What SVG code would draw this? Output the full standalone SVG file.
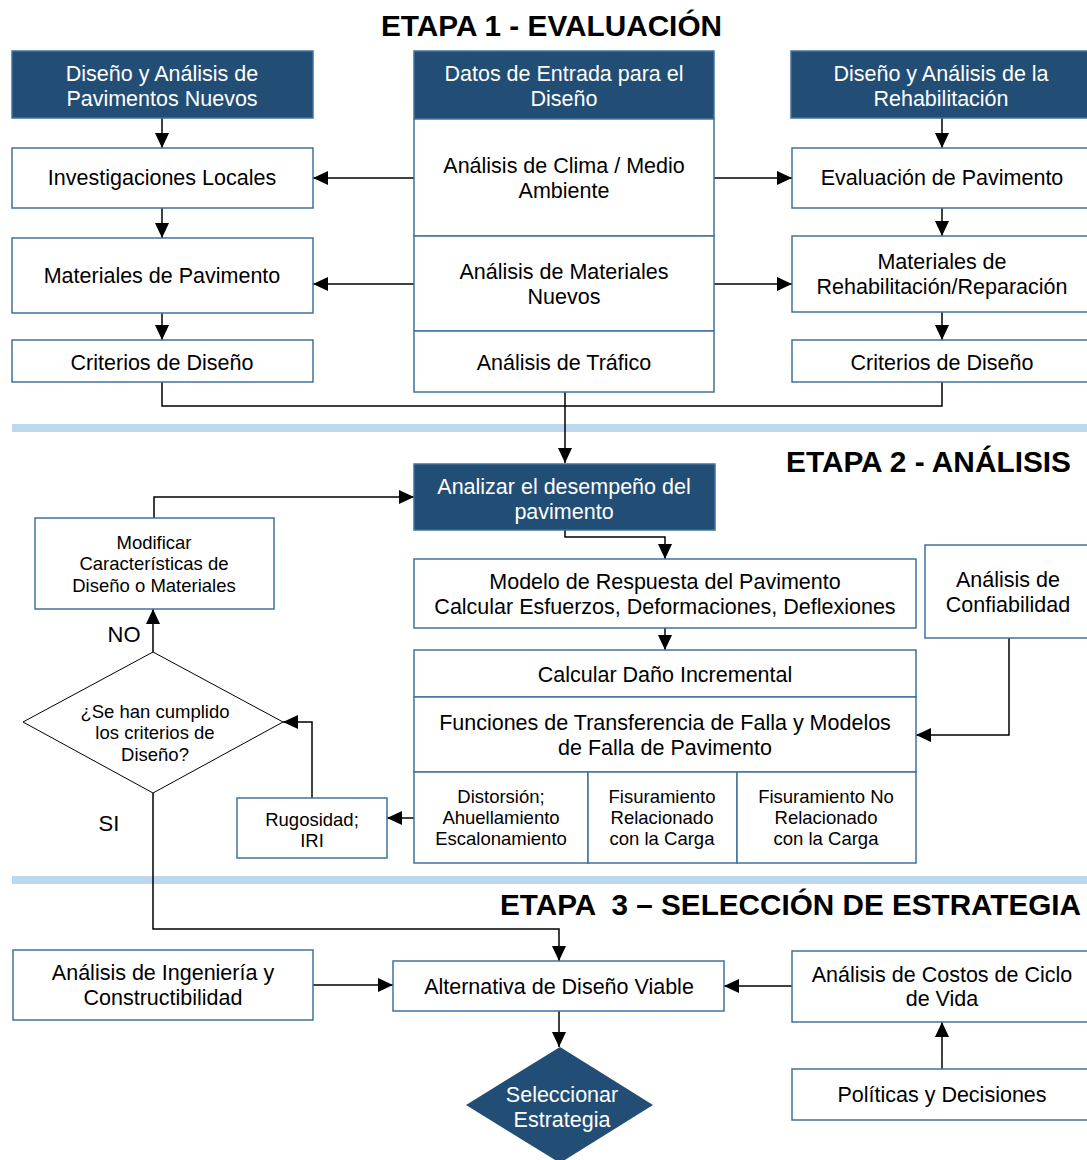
<svg xmlns="http://www.w3.org/2000/svg" width="1087" height="1160" viewBox="0 0 1087 1160">
<style>
.box{fill:#fff;stroke:#41719C;stroke-width:1.5}
.dark{fill:#224E76;stroke:#41719C;stroke-width:1.5}
.t{font-family:"Liberation Sans",Arial,sans-serif;font-size:21.5px;text-anchor:middle;fill:#000}
.s{font-size:18.5px}
.w{fill:#fff}
.h{font-family:"Liberation Sans",Arial,sans-serif;font-size:29.5px;font-weight:bold;fill:#000}
.c{fill:none;stroke:#000;stroke-width:1.5}
.band{fill:#BDD7EE}
</style>
<defs>
<marker id="a" markerUnits="userSpaceOnUse" markerWidth="15" markerHeight="14" refX="15" refY="7" orient="auto">
<path d="M0,0 L15,7 L0,14 z" fill="#000"/>
</marker>
</defs>
<rect class="band" x="12" y="424" width="1075" height="8"/>
<rect class="band" x="12" y="876" width="1075" height="8"/>
<text class="h" x="381" y="36" textLength="341" lengthAdjust="spacingAndGlyphs">ETAPA 1 - EVALUACIÓN</text>
<text class="h" x="786" y="472" textLength="285" lengthAdjust="spacingAndGlyphs">ETAPA 2 - ANÁLISIS</text>
<text class="h" x="500" y="915" textLength="581" lengthAdjust="spacingAndGlyphs" xml:space="preserve">ETAPA  3 – SELECCIÓN DE ESTRATEGIA</text>

<g id="connectors">
<path class="c" d="M162,118 V148" marker-end="url(#a)"/>
<path class="c" d="M162,208 V238" marker-end="url(#a)"/>
<path class="c" d="M162,313 V340" marker-end="url(#a)"/>
<path class="c" d="M942,118 V148" marker-end="url(#a)"/>
<path class="c" d="M942,208 V236" marker-end="url(#a)"/>
<path class="c" d="M942,312 V340" marker-end="url(#a)"/>
<path class="c" d="M414,178 H313" marker-end="url(#a)"/>
<path class="c" d="M414,284 H313" marker-end="url(#a)"/>
<path class="c" d="M714,178 H792" marker-end="url(#a)"/>
<path class="c" d="M714,284 H792" marker-end="url(#a)"/>
<path class="c" d="M162,382 V406 H942 V382"/>
<path class="c" d="M565,392 V463" marker-end="url(#a)"/>
<path class="c" d="M154,518 V497 H414" marker-end="url(#a)"/>
<path class="c" d="M565,530 V537 H665 V559" marker-end="url(#a)"/>
<path class="c" d="M665,628 V650" marker-end="url(#a)"/>
<path class="c" d="M1009,638 V735 H916" marker-end="url(#a)"/>
<path class="c" d="M414,818 H387" marker-end="url(#a)"/>
<path class="c" d="M312,798 V722 H283" marker-end="url(#a)"/>
<path class="c" d="M153,652 V609" marker-end="url(#a)"/>
<path class="c" d="M153,793 V929 H559 V961" marker-end="url(#a)"/>
<path class="c" d="M313,985 H393" marker-end="url(#a)"/>
<path class="c" d="M792,986 H724" marker-end="url(#a)"/>
<path class="c" d="M559,1011 V1047" marker-end="url(#a)"/>
<path class="c" d="M942,1069 V1022" marker-end="url(#a)"/>
</g>

<g id="n-nuevos"><rect class="dark" x="12" y="51" width="301" height="67"/>
<text class="t w" x="162" y="81">Diseño y Análisis de</text><text class="t w" x="162" y="106">Pavimentos Nuevos</text></g>
<g id="n-datos"><rect class="dark" x="414" y="51" width="300" height="68"/>
<text class="t w" x="564" y="81">Datos de Entrada para el</text><text class="t w" x="564" y="106">Diseño</text></g>
<g id="n-rehab"><rect class="dark" x="791" y="51" width="300" height="67"/>
<text class="t w" x="941" y="81">Diseño y Análisis de la</text><text class="t w" x="941" y="106">Rehabilitación</text></g>

<g id="n-invest"><rect class="box" x="12" y="148" width="301" height="60"/>
<text class="t" x="162" y="185">Investigaciones Locales</text></g>
<g id="n-matpav"><rect class="box" x="12" y="238" width="301" height="75"/>
<text class="t" x="162" y="283">Materiales de Pavimento</text></g>
<g id="n-crit1"><rect class="box" x="12" y="340" width="301" height="42"/>
<text class="t" x="162" y="370">Criterios de Diseño</text></g>

<g id="n-clima"><rect class="box" x="414" y="119" width="300" height="117"/>
<text class="t" x="564" y="173">Análisis de Clima / Medio</text><text class="t" x="564" y="198">Ambiente</text></g>
<g id="n-matnuevos"><rect class="box" x="414" y="236" width="300" height="95"/>
<text class="t" x="564" y="279">Análisis de Materiales</text><text class="t" x="564" y="304">Nuevos</text></g>
<g id="n-trafico"><rect class="box" x="414" y="331" width="300" height="61"/>
<text class="t" x="564" y="370">Análisis de Tráfico</text></g>

<g id="n-evalpav"><rect class="box" x="792" y="148" width="300" height="60"/>
<text class="t" x="942" y="185">Evaluación de Pavimento</text></g>
<g id="n-matrehab"><rect class="box" x="792" y="236" width="300" height="76"/>
<text class="t" x="942" y="269">Materiales de</text><text class="t" x="942" y="294">Rehabilitación/Reparación</text></g>
<g id="n-crit2"><rect class="box" x="792" y="340" width="300" height="42"/>
<text class="t" x="942" y="370">Criterios de Diseño</text></g>

<g id="n-analizar"><rect class="dark" x="414" y="464" width="301" height="66"/>
<text class="t w" x="564" y="494">Analizar el desempeño del</text><text class="t w" x="564" y="519">pavimento</text></g>
<g id="n-modelo"><rect class="box" x="414" y="559" width="502" height="69"/>
<text class="t" x="665" y="589">Modelo de Respuesta del Pavimento</text><text class="t" x="665" y="614">Calcular Esfuerzos, Deformaciones, Deflexiones</text></g>
<g id="n-confiab"><rect class="box" x="925" y="545" width="166" height="93"/>
<text class="t" x="1008" y="587">Análisis de</text><text class="t" x="1008" y="612">Confiabilidad</text></g>
<g id="n-dano"><rect class="box" x="414" y="650" width="502" height="47"/>
<text class="t" x="665" y="682">Calcular Daño Incremental</text></g>
<g id="n-funciones"><rect class="box" x="414" y="697" width="502" height="75"/>
<text class="t" x="665" y="730">Funciones de Transferencia de Falla y Modelos</text><text class="t" x="665" y="755">de Falla de Pavimento</text></g>
<g id="n-distorsion"><rect class="box" x="414" y="772" width="174" height="91"/>
<text class="t s" x="501" y="803">Distorsión;</text><text class="t s" x="501" y="824">Ahuellamiento</text><text class="t s" x="501" y="845">Escalonamiento</text></g>
<g id="n-fiscarga"><rect class="box" x="588" y="772" width="149" height="91"/>
<text class="t s" x="662" y="803">Fisuramiento</text><text class="t s" x="662" y="824">Relacionado</text><text class="t s" x="662" y="845">con la Carga</text></g>
<g id="n-fisnocarga"><rect class="box" x="737" y="772" width="179" height="91"/>
<text class="t s" x="826" y="803">Fisuramiento No</text><text class="t s" x="826" y="824">Relacionado</text><text class="t s" x="826" y="845">con la Carga</text></g>
<g id="n-rugosidad"><rect class="box" x="237" y="798" width="150" height="60"/>
<text class="t s" x="312" y="826">Rugosidad;</text><text class="t s" x="312" y="847">IRI</text></g>
<g id="n-modificar"><rect class="box" x="35" y="518" width="239" height="91"/>
<text class="t s" x="154" y="549">Modificar</text><text class="t s" x="154" y="570">Características de</text><text class="t s" x="154" y="592">Diseño o Materiales</text></g>
<g id="n-criterios"><polygon points="153,652 283,722 153,793 23,722" fill="#fff" stroke="#000" stroke-width="1"/>
<text class="t s" x="155" y="718">¿Se han cumplido</text><text class="t s" x="155" y="739">los criterios de</text><text class="t s" x="155" y="761">Diseño?</text></g>
<text class="t" style="font-size:22px" x="124" y="642">NO</text>
<text class="t" style="font-size:22px" x="109" y="831">SI</text>

<g id="n-ingenieria"><rect class="box" x="13" y="950" width="300" height="70"/>
<text class="t" x="163" y="980">Análisis de Ingeniería y</text><text class="t" x="163" y="1005">Constructibilidad</text></g>
<g id="n-alternativa"><rect class="box" x="393" y="961" width="331" height="50"/>
<text class="t" x="559" y="994">Alternativa de Diseño Viable</text></g>
<g id="n-costos"><rect class="box" x="792" y="951" width="300" height="71"/>
<text class="t" x="942" y="982">Análisis de Costos de Ciclo</text><text class="t" x="942" y="1006">de Vida</text></g>
<g id="n-politicas"><rect class="box" x="792" y="1069" width="300" height="51"/>
<text class="t" x="942" y="1102">Políticas y Decisiones</text></g>
<g id="n-seleccionar"><polygon points="560,1047 653,1105 560,1163 466,1105" fill="#224E76"/>
<text class="t w" x="562" y="1102">Seleccionar</text><text class="t w" x="562" y="1127">Estrategia</text></g>
</svg>
